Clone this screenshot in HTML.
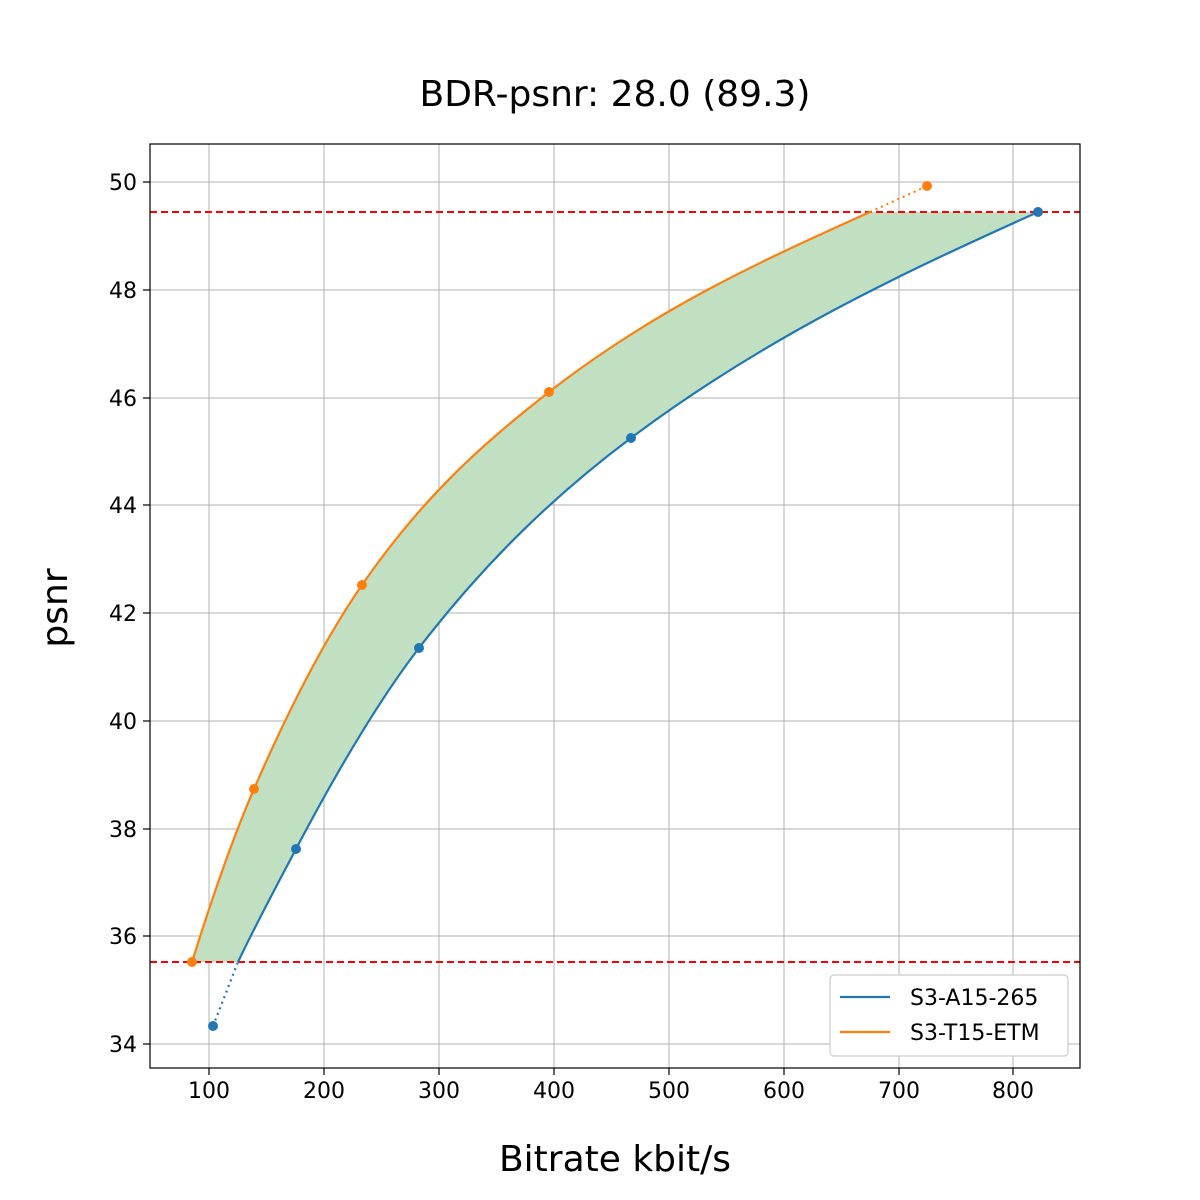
<!DOCTYPE html>
<html><head><meta charset="utf-8"><style>body{margin:0;background:#fff}svg{display:block}</style></head><body>
<svg width="1200" height="1200" viewBox="0 0 1200 1200" xmlns="http://www.w3.org/2000/svg" font-family="'DejaVu Sans','Liberation Sans',sans-serif">
<rect width="1200" height="1200" fill="#fff"/>
<text x="615" y="106" font-size="36" text-anchor="middle">BDR-psnr: 28.0 (89.3)</text>
<g stroke="#b0b0b0" stroke-width="1">
<line x1="209" y1="144" x2="209" y2="1068"/><line x1="324" y1="144" x2="324" y2="1068"/><line x1="439" y1="144" x2="439" y2="1068"/><line x1="554" y1="144" x2="554" y2="1068"/><line x1="669" y1="144" x2="669" y2="1068"/><line x1="784" y1="144" x2="784" y2="1068"/><line x1="899" y1="144" x2="899" y2="1068"/><line x1="1013" y1="144" x2="1013" y2="1068"/>
<line x1="150" y1="182" x2="1080" y2="182"/><line x1="150" y1="290" x2="1080" y2="290"/><line x1="150" y1="398" x2="1080" y2="398"/><line x1="150" y1="505" x2="1080" y2="505"/><line x1="150" y1="613" x2="1080" y2="613"/><line x1="150" y1="721" x2="1080" y2="721"/><line x1="150" y1="829" x2="1080" y2="829"/><line x1="150" y1="936" x2="1080" y2="936"/><line x1="150" y1="1044" x2="1080" y2="1044"/>
</g>
<path fill="#c1dfc1" d="M192,962 C212.7,895.8 233.3,836.6 254,789 C290,706.2 326,637.2 362,585 C424.3,494.6 486.7,440.6 549,392 C656,308.5 763,260.2 870,212 L1038,212 C902.3,273.1 766.7,336.2 631,438 C560.3,491 489.7,556.1 419,648 C378,701.3 337,771.1 296,849 C276.7,885.7 257.3,921.4 238,962 Z"/>
<line x1="150" y1="212" x2="1080" y2="212" stroke="#f00" stroke-width="2" stroke-dasharray="7,4"/>
<line x1="150" y1="962" x2="1080" y2="962" stroke="#f00" stroke-width="2" stroke-dasharray="7,4"/>
<path fill="none" stroke="#1f77b4" stroke-width="2.2" d="M238,962 C257.3,921.4 276.7,885.7 296,849 C337,771.1 378,701.3 419,648 C489.7,556.1 560.3,491 631,438 C766.7,336.2 902.3,273.1 1038,212"/>
<polyline fill="none" stroke="#1f77b4" stroke-width="2.2" stroke-dasharray="2,4" points="213,1026 238,962"/>
<path fill="none" stroke="#ff7f0e" stroke-width="2.2" d="M192,962 C212.7,895.8 233.3,836.6 254,789 C290,706.2 326,637.2 362,585 C424.3,494.6 486.7,440.6 549,392 C656,308.5 763,260.2 870,212"/>
<polyline fill="none" stroke="#ff7f0e" stroke-width="2.2" stroke-dasharray="2,4" points="870,212 927,186"/>
<g fill="#1f77b4"><circle cx="213" cy="1026" r="5"/><circle cx="296" cy="849" r="5"/><circle cx="419" cy="648" r="5"/><circle cx="631" cy="438" r="5"/><circle cx="1038" cy="212" r="5"/></g>
<g fill="#ff7f0e"><circle cx="192" cy="962" r="5"/><circle cx="254" cy="789" r="5"/><circle cx="362" cy="585" r="5"/><circle cx="549" cy="392" r="5"/><circle cx="927" cy="186" r="5"/></g>
<rect x="150" y="144" width="930" height="924" fill="none" stroke="#000" stroke-width="1.2"/>
<g stroke="#000" stroke-width="1.2">
<line x1="209" y1="1068" x2="209" y2="1075"/><line x1="324" y1="1068" x2="324" y2="1075"/><line x1="439" y1="1068" x2="439" y2="1075"/><line x1="554" y1="1068" x2="554" y2="1075"/><line x1="669" y1="1068" x2="669" y2="1075"/><line x1="784" y1="1068" x2="784" y2="1075"/><line x1="899" y1="1068" x2="899" y2="1075"/><line x1="1013" y1="1068" x2="1013" y2="1075"/>
<line x1="143" y1="182" x2="150" y2="182"/><line x1="143" y1="290" x2="150" y2="290"/><line x1="143" y1="398" x2="150" y2="398"/><line x1="143" y1="505" x2="150" y2="505"/><line x1="143" y1="613" x2="150" y2="613"/><line x1="143" y1="721" x2="150" y2="721"/><line x1="143" y1="829" x2="150" y2="829"/><line x1="143" y1="936" x2="150" y2="936"/><line x1="143" y1="1044" x2="150" y2="1044"/>
</g>
<g font-size="22" text-anchor="middle">
<text x="209" y="1098">100</text><text x="324" y="1098">200</text><text x="439" y="1098">300</text><text x="554" y="1098">400</text><text x="669" y="1098">500</text><text x="784" y="1098">600</text><text x="899" y="1098">700</text><text x="1013" y="1098">800</text>
</g>
<g font-size="22" text-anchor="end">
<text x="137" y="190">50</text><text x="137" y="298">48</text><text x="137" y="406">46</text><text x="137" y="513">44</text><text x="137" y="621">42</text><text x="137" y="729">40</text><text x="137" y="837">38</text><text x="137" y="944">36</text><text x="137" y="1052">34</text>
</g>
<text x="615" y="1171" font-size="36" text-anchor="middle">Bitrate kbit/s</text>
<text transform="translate(67,608) rotate(-90)" font-size="36" text-anchor="middle">psnr</text>
<rect x="830" y="975" width="238" height="81" rx="4" fill="#fff" stroke="#ccc" stroke-width="1.2"/>
<line x1="840" y1="997" x2="890" y2="997" stroke="#1f77b4" stroke-width="2.2"/>
<line x1="840" y1="1032" x2="890" y2="1032" stroke="#ff7f0e" stroke-width="2.2"/>
<text x="910" y="1005" font-size="22">S3-A15-265</text>
<text x="910" y="1040" font-size="22">S3-T15-ETM</text>
</svg>
</body></html>
